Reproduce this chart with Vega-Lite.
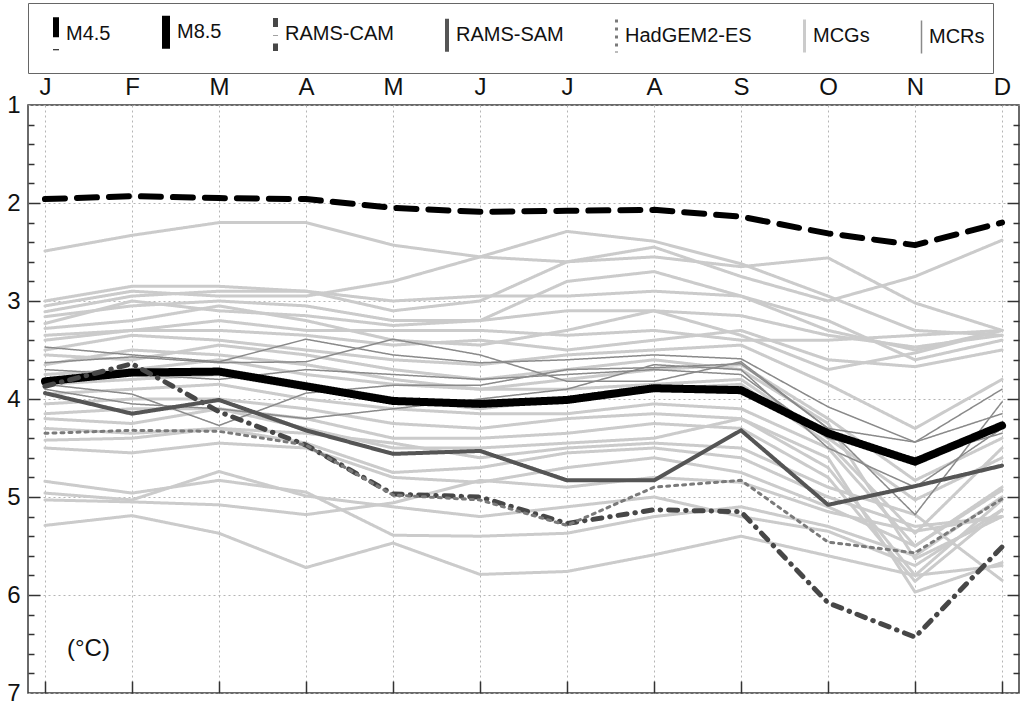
{
"$schema":"https://vega.github.io/schema/vega-lite/v6.json",
"width":991,"height":588,
"autosize":{"type":"none"},
"padding":{"left":28,"top":105,"right":4,"bottom":15},
"background":"white",
"config":{"view":{"stroke":"#3a3a3a","strokeWidth":1.5},"font":"Liberation Sans","axis":{"labelFont":"Liberation Sans","labelColor":"#111","title":null},
 "legend":{"orient":"none","legendX":0,"legendY":-102,"direction":"horizontal","symbolType":"stroke","symbolSize":1100,"symbolLimit":7,"labelFontSize":20,"labelFont":"Liberation Sans","labelColor":"#111","padding":8,"strokeColor":"#666","columnPadding":34,"labelOffset":-10,"titlePadding":0,"titleFontSize":0,"titleLineHeight":0}},
"datasets":{"d":[
{"id":"M45","s":"M4.5","m":1,"v":1.96},{"id":"M45","s":"M4.5","m":2,"v":1.93},{"id":"M45","s":"M4.5","m":3,"v":1.95},{"id":"M45","s":"M4.5","m":4,"v":1.96},{"id":"M45","s":"M4.5","m":5,"v":2.05},{"id":"M45","s":"M4.5","m":6,"v":2.09},{"id":"M45","s":"M4.5","m":7,"v":2.08},{"id":"M45","s":"M4.5","m":8,"v":2.07},{"id":"M45","s":"M4.5","m":9,"v":2.14},{"id":"M45","s":"M4.5","m":10,"v":2.31},{"id":"M45","s":"M4.5","m":11,"v":2.43},{"id":"M45","s":"M4.5","m":12,"v":2.2},
{"id":"M85","s":"M8.5","m":1,"v":3.82},{"id":"M85","s":"M8.5","m":2,"v":3.73},{"id":"M85","s":"M8.5","m":3,"v":3.72},{"id":"M85","s":"M8.5","m":4,"v":3.87},{"id":"M85","s":"M8.5","m":5,"v":4.02},{"id":"M85","s":"M8.5","m":6,"v":4.05},{"id":"M85","s":"M8.5","m":7,"v":4.01},{"id":"M85","s":"M8.5","m":8,"v":3.89},{"id":"M85","s":"M8.5","m":9,"v":3.91},{"id":"M85","s":"M8.5","m":10,"v":4.35},{"id":"M85","s":"M8.5","m":11,"v":4.64},{"id":"M85","s":"M8.5","m":12,"v":4.27},
{"id":"CAM","s":"RAMS-CAM","m":1,"v":3.87},{"id":"CAM","s":"RAMS-CAM","m":2,"v":3.64},{"id":"CAM","s":"RAMS-CAM","m":3,"v":4.13},{"id":"CAM","s":"RAMS-CAM","m":4,"v":4.47},{"id":"CAM","s":"RAMS-CAM","m":5,"v":4.97},{"id":"CAM","s":"RAMS-CAM","m":6,"v":5.0},{"id":"CAM","s":"RAMS-CAM","m":7,"v":5.27},{"id":"CAM","s":"RAMS-CAM","m":8,"v":5.13},{"id":"CAM","s":"RAMS-CAM","m":9,"v":5.15},{"id":"CAM","s":"RAMS-CAM","m":10,"v":6.08},{"id":"CAM","s":"RAMS-CAM","m":11,"v":6.43},{"id":"CAM","s":"RAMS-CAM","m":12,"v":5.51},
{"id":"SAM","s":"RAMS-SAM","m":1,"v":3.94},{"id":"SAM","s":"RAMS-SAM","m":2,"v":4.15},{"id":"SAM","s":"RAMS-SAM","m":3,"v":4.01},{"id":"SAM","s":"RAMS-SAM","m":4,"v":4.32},{"id":"SAM","s":"RAMS-SAM","m":5,"v":4.56},{"id":"SAM","s":"RAMS-SAM","m":6,"v":4.53},{"id":"SAM","s":"RAMS-SAM","m":7,"v":4.83},{"id":"SAM","s":"RAMS-SAM","m":8,"v":4.83},{"id":"SAM","s":"RAMS-SAM","m":9,"v":4.32},{"id":"SAM","s":"RAMS-SAM","m":10,"v":5.08},{"id":"SAM","s":"RAMS-SAM","m":11,"v":4.89},{"id":"SAM","s":"RAMS-SAM","m":12,"v":4.68},
{"id":"HAD","s":"HadGEM2-ES","m":1,"v":4.35},{"id":"HAD","s":"HadGEM2-ES","m":2,"v":4.32},{"id":"HAD","s":"HadGEM2-ES","m":3,"v":4.33},{"id":"HAD","s":"HadGEM2-ES","m":4,"v":4.47},{"id":"HAD","s":"HadGEM2-ES","m":5,"v":4.98},{"id":"HAD","s":"HadGEM2-ES","m":6,"v":5.03},{"id":"HAD","s":"HadGEM2-ES","m":7,"v":5.29},{"id":"HAD","s":"HadGEM2-ES","m":8,"v":4.9},{"id":"HAD","s":"HadGEM2-ES","m":9,"v":4.83},{"id":"HAD","s":"HadGEM2-ES","m":10,"v":5.46},{"id":"HAD","s":"HadGEM2-ES","m":11,"v":5.57},{"id":"HAD","s":"HadGEM2-ES","m":12,"v":5.02},
{"id":"R1","s":"MCRs","m":1,"v":3.47},{"id":"R1","s":"MCRs","m":2,"v":3.55},{"id":"R1","s":"MCRs","m":3,"v":3.62},{"id":"R1","s":"MCRs","m":4,"v":3.39},{"id":"R1","s":"MCRs","m":5,"v":3.55},{"id":"R1","s":"MCRs","m":6,"v":3.63},{"id":"R1","s":"MCRs","m":7,"v":3.6},{"id":"R1","s":"MCRs","m":8,"v":3.55},{"id":"R1","s":"MCRs","m":9,"v":3.59},{"id":"R1","s":"MCRs","m":10,"v":4.08},{"id":"R1","s":"MCRs","m":11,"v":4.44},{"id":"R1","s":"MCRs","m":12,"v":3.9},
{"id":"R2","s":"MCRs","m":1,"v":3.63},{"id":"R2","s":"MCRs","m":2,"v":3.57},{"id":"R2","s":"MCRs","m":3,"v":3.63},{"id":"R2","s":"MCRs","m":4,"v":3.62},{"id":"R2","s":"MCRs","m":5,"v":3.39},{"id":"R2","s":"MCRs","m":6,"v":3.55},{"id":"R2","s":"MCRs","m":7,"v":3.82},{"id":"R2","s":"MCRs","m":8,"v":3.82},{"id":"R2","s":"MCRs","m":9,"v":3.62},{"id":"R2","s":"MCRs","m":10,"v":4.3},{"id":"R2","s":"MCRs","m":11,"v":5.18},{"id":"R2","s":"MCRs","m":12,"v":4.03},
{"id":"R3","s":"MCRs","m":1,"v":3.85},{"id":"R3","s":"MCRs","m":2,"v":3.95},{"id":"R3","s":"MCRs","m":3,"v":4.27},{"id":"R3","s":"MCRs","m":4,"v":3.94},{"id":"R3","s":"MCRs","m":5,"v":3.86},{"id":"R3","s":"MCRs","m":6,"v":3.86},{"id":"R3","s":"MCRs","m":7,"v":3.7},{"id":"R3","s":"MCRs","m":8,"v":3.68},{"id":"R3","s":"MCRs","m":9,"v":3.64},{"id":"R3","s":"MCRs","m":10,"v":4.3},{"id":"R3","s":"MCRs","m":11,"v":4.44},{"id":"R3","s":"MCRs","m":12,"v":4.15},
{"id":"R4","s":"MCRs","m":1,"v":3.9},{"id":"R4","s":"MCRs","m":2,"v":4.05},{"id":"R4","s":"MCRs","m":3,"v":4.1},{"id":"R4","s":"MCRs","m":4,"v":4.2},{"id":"R4","s":"MCRs","m":5,"v":4.1},{"id":"R4","s":"MCRs","m":6,"v":4.0},{"id":"R4","s":"MCRs","m":7,"v":3.9},{"id":"R4","s":"MCRs","m":8,"v":3.65},{"id":"R4","s":"MCRs","m":9,"v":3.7},{"id":"R4","s":"MCRs","m":10,"v":4.5},{"id":"R4","s":"MCRs","m":11,"v":4.9},{"id":"R4","s":"MCRs","m":12,"v":4.3},
{"id":"R5","s":"MCRs","m":1,"v":3.7},{"id":"R5","s":"MCRs","m":2,"v":3.75},{"id":"R5","s":"MCRs","m":3,"v":3.8},{"id":"R5","s":"MCRs","m":4,"v":3.7},{"id":"R5","s":"MCRs","m":5,"v":3.75},{"id":"R5","s":"MCRs","m":6,"v":3.8},{"id":"R5","s":"MCRs","m":7,"v":3.75},{"id":"R5","s":"MCRs","m":8,"v":3.7},{"id":"R5","s":"MCRs","m":9,"v":3.75},{"id":"R5","s":"MCRs","m":10,"v":4.4},{"id":"R5","s":"MCRs","m":11,"v":4.6},{"id":"R5","s":"MCRs","m":12,"v":4.35},
{"id":"G1","s":"MCGs","m":1,"v":2.49},{"id":"G1","s":"MCGs","m":2,"v":2.33},{"id":"G1","s":"MCGs","m":3,"v":2.2},{"id":"G1","s":"MCGs","m":4,"v":2.2},{"id":"G1","s":"MCGs","m":5,"v":2.43},{"id":"G1","s":"MCGs","m":6,"v":2.55},{"id":"G1","s":"MCGs","m":7,"v":2.6},{"id":"G1","s":"MCGs","m":8,"v":2.45},{"id":"G1","s":"MCGs","m":9,"v":2.75},{"id":"G1","s":"MCGs","m":10,"v":3.0},{"id":"G1","s":"MCGs","m":11,"v":2.75},{"id":"G1","s":"MCGs","m":12,"v":2.38},
{"id":"G2","s":"MCGs","m":1,"v":3.05},{"id":"G2","s":"MCGs","m":2,"v":2.9},{"id":"G2","s":"MCGs","m":3,"v":2.95},{"id":"G2","s":"MCGs","m":4,"v":2.95},{"id":"G2","s":"MCGs","m":5,"v":2.8},{"id":"G2","s":"MCGs","m":6,"v":2.55},{"id":"G2","s":"MCGs","m":7,"v":2.29},{"id":"G2","s":"MCGs","m":8,"v":2.39},{"id":"G2","s":"MCGs","m":9,"v":2.62},{"id":"G2","s":"MCGs","m":10,"v":2.95},{"id":"G2","s":"MCGs","m":11,"v":3.3},{"id":"G2","s":"MCGs","m":12,"v":3.35},
{"id":"G3","s":"MCGs","m":1,"v":3.0},{"id":"G3","s":"MCGs","m":2,"v":2.85},{"id":"G3","s":"MCGs","m":3,"v":2.85},{"id":"G3","s":"MCGs","m":4,"v":2.9},{"id":"G3","s":"MCGs","m":5,"v":3.1},{"id":"G3","s":"MCGs","m":6,"v":3.0},{"id":"G3","s":"MCGs","m":7,"v":2.6},{"id":"G3","s":"MCGs","m":8,"v":2.55},{"id":"G3","s":"MCGs","m":9,"v":2.65},{"id":"G3","s":"MCGs","m":10,"v":2.56},{"id":"G3","s":"MCGs","m":11,"v":3.02},{"id":"G3","s":"MCGs","m":12,"v":3.3},
{"id":"G4","s":"MCGs","m":1,"v":3.11},{"id":"G4","s":"MCGs","m":2,"v":2.95},{"id":"G4","s":"MCGs","m":3,"v":2.9},{"id":"G4","s":"MCGs","m":4,"v":2.9},{"id":"G4","s":"MCGs","m":5,"v":3.0},{"id":"G4","s":"MCGs","m":6,"v":2.95},{"id":"G4","s":"MCGs","m":7,"v":2.95},{"id":"G4","s":"MCGs","m":8,"v":2.9},{"id":"G4","s":"MCGs","m":9,"v":2.95},{"id":"G4","s":"MCGs","m":10,"v":3.3},{"id":"G4","s":"MCGs","m":11,"v":3.5},{"id":"G4","s":"MCGs","m":12,"v":3.3},
{"id":"G5","s":"MCGs","m":1,"v":3.16},{"id":"G5","s":"MCGs","m":2,"v":3.05},{"id":"G5","s":"MCGs","m":3,"v":3.0},{"id":"G5","s":"MCGs","m":4,"v":3.05},{"id":"G5","s":"MCGs","m":5,"v":3.2},{"id":"G5","s":"MCGs","m":6,"v":3.2},{"id":"G5","s":"MCGs","m":7,"v":2.8},{"id":"G5","s":"MCGs","m":8,"v":2.7},{"id":"G5","s":"MCGs","m":9,"v":2.95},{"id":"G5","s":"MCGs","m":10,"v":3.2},{"id":"G5","s":"MCGs","m":11,"v":3.6},{"id":"G5","s":"MCGs","m":12,"v":3.4},
{"id":"G6","s":"MCGs","m":1,"v":3.23},{"id":"G6","s":"MCGs","m":2,"v":3.0},{"id":"G6","s":"MCGs","m":3,"v":3.1},{"id":"G6","s":"MCGs","m":4,"v":3.15},{"id":"G6","s":"MCGs","m":5,"v":3.25},{"id":"G6","s":"MCGs","m":6,"v":3.2},{"id":"G6","s":"MCGs","m":7,"v":3.1},{"id":"G6","s":"MCGs","m":8,"v":3.1},{"id":"G6","s":"MCGs","m":9,"v":3.15},{"id":"G6","s":"MCGs","m":10,"v":3.35},{"id":"G6","s":"MCGs","m":11,"v":3.47},{"id":"G6","s":"MCGs","m":12,"v":3.35},
{"id":"G7","s":"MCGs","m":1,"v":3.28},{"id":"G7","s":"MCGs","m":2,"v":3.2},{"id":"G7","s":"MCGs","m":3,"v":3.05},{"id":"G7","s":"MCGs","m":4,"v":3.2},{"id":"G7","s":"MCGs","m":5,"v":3.4},{"id":"G7","s":"MCGs","m":6,"v":3.45},{"id":"G7","s":"MCGs","m":7,"v":3.3},{"id":"G7","s":"MCGs","m":8,"v":3.1},{"id":"G7","s":"MCGs","m":9,"v":3.35},{"id":"G7","s":"MCGs","m":10,"v":3.7},{"id":"G7","s":"MCGs","m":11,"v":3.53},{"id":"G7","s":"MCGs","m":12,"v":3.3},
{"id":"G8","s":"MCGs","m":1,"v":3.35},{"id":"G8","s":"MCGs","m":2,"v":3.3},{"id":"G8","s":"MCGs","m":3,"v":3.2},{"id":"G8","s":"MCGs","m":4,"v":3.3},{"id":"G8","s":"MCGs","m":5,"v":3.3},{"id":"G8","s":"MCGs","m":6,"v":3.3},{"id":"G8","s":"MCGs","m":7,"v":3.35},{"id":"G8","s":"MCGs","m":8,"v":3.3},{"id":"G8","s":"MCGs","m":9,"v":3.4},{"id":"G8","s":"MCGs","m":10,"v":3.4},{"id":"G8","s":"MCGs","m":11,"v":3.35},{"id":"G8","s":"MCGs","m":12,"v":3.3},
{"id":"G9","s":"MCGs","m":1,"v":3.4},{"id":"G9","s":"MCGs","m":2,"v":3.3},{"id":"G9","s":"MCGs","m":3,"v":3.3},{"id":"G9","s":"MCGs","m":4,"v":3.35},{"id":"G9","s":"MCGs","m":5,"v":3.45},{"id":"G9","s":"MCGs","m":6,"v":3.4},{"id":"G9","s":"MCGs","m":7,"v":3.5},{"id":"G9","s":"MCGs","m":8,"v":3.4},{"id":"G9","s":"MCGs","m":9,"v":3.3},{"id":"G9","s":"MCGs","m":10,"v":3.6},{"id":"G9","s":"MCGs","m":11,"v":3.67},{"id":"G9","s":"MCGs","m":12,"v":3.5},
{"id":"G10","s":"MCGs","m":1,"v":3.5},{"id":"G10","s":"MCGs","m":2,"v":3.35},{"id":"G10","s":"MCGs","m":3,"v":3.4},{"id":"G10","s":"MCGs","m":4,"v":3.5},{"id":"G10","s":"MCGs","m":5,"v":3.6},{"id":"G10","s":"MCGs","m":6,"v":3.65},{"id":"G10","s":"MCGs","m":7,"v":3.55},{"id":"G10","s":"MCGs","m":8,"v":3.5},{"id":"G10","s":"MCGs","m":9,"v":3.45},{"id":"G10","s":"MCGs","m":10,"v":3.85},{"id":"G10","s":"MCGs","m":11,"v":4.3},{"id":"G10","s":"MCGs","m":12,"v":3.8},
{"id":"G11","s":"MCGs","m":1,"v":3.55},{"id":"G11","s":"MCGs","m":2,"v":3.6},{"id":"G11","s":"MCGs","m":3,"v":3.45},{"id":"G11","s":"MCGs","m":4,"v":3.55},{"id":"G11","s":"MCGs","m":5,"v":3.7},{"id":"G11","s":"MCGs","m":6,"v":3.8},{"id":"G11","s":"MCGs","m":7,"v":3.7},{"id":"G11","s":"MCGs","m":8,"v":3.6},{"id":"G11","s":"MCGs","m":9,"v":3.7},{"id":"G11","s":"MCGs","m":10,"v":4.25},{"id":"G11","s":"MCGs","m":11,"v":5.63},{"id":"G11","s":"MCGs","m":12,"v":5.2},
{"id":"G12","s":"MCGs","m":1,"v":3.65},{"id":"G12","s":"MCGs","m":2,"v":3.5},{"id":"G12","s":"MCGs","m":3,"v":3.55},{"id":"G12","s":"MCGs","m":4,"v":3.65},{"id":"G12","s":"MCGs","m":5,"v":3.8},{"id":"G12","s":"MCGs","m":6,"v":3.9},{"id":"G12","s":"MCGs","m":7,"v":3.8},{"id":"G12","s":"MCGs","m":8,"v":3.7},{"id":"G12","s":"MCGs","m":9,"v":3.65},{"id":"G12","s":"MCGs","m":10,"v":4.2},{"id":"G12","s":"MCGs","m":11,"v":4.83},{"id":"G12","s":"MCGs","m":12,"v":4.4},
{"id":"G13","s":"MCGs","m":1,"v":3.75},{"id":"G13","s":"MCGs","m":2,"v":3.7},{"id":"G13","s":"MCGs","m":3,"v":3.6},{"id":"G13","s":"MCGs","m":4,"v":3.75},{"id":"G13","s":"MCGs","m":5,"v":3.85},{"id":"G13","s":"MCGs","m":6,"v":3.9},{"id":"G13","s":"MCGs","m":7,"v":3.9},{"id":"G13","s":"MCGs","m":8,"v":3.85},{"id":"G13","s":"MCGs","m":9,"v":3.8},{"id":"G13","s":"MCGs","m":10,"v":4.4},{"id":"G13","s":"MCGs","m":11,"v":5.03},{"id":"G13","s":"MCGs","m":12,"v":4.6},
{"id":"G14","s":"MCGs","m":1,"v":3.85},{"id":"G14","s":"MCGs","m":2,"v":3.8},{"id":"G14","s":"MCGs","m":3,"v":3.75},{"id":"G14","s":"MCGs","m":4,"v":3.9},{"id":"G14","s":"MCGs","m":5,"v":4.0},{"id":"G14","s":"MCGs","m":6,"v":4.1},{"id":"G14","s":"MCGs","m":7,"v":4.0},{"id":"G14","s":"MCGs","m":8,"v":3.9},{"id":"G14","s":"MCGs","m":9,"v":3.85},{"id":"G14","s":"MCGs","m":10,"v":4.45},{"id":"G14","s":"MCGs","m":11,"v":5.37},{"id":"G14","s":"MCGs","m":12,"v":4.5},
{"id":"G15","s":"MCGs","m":1,"v":3.95},{"id":"G15","s":"MCGs","m":2,"v":3.9},{"id":"G15","s":"MCGs","m":3,"v":3.85},{"id":"G15","s":"MCGs","m":4,"v":4.0},{"id":"G15","s":"MCGs","m":5,"v":4.1},{"id":"G15","s":"MCGs","m":6,"v":4.15},{"id":"G15","s":"MCGs","m":7,"v":4.15},{"id":"G15","s":"MCGs","m":8,"v":4.05},{"id":"G15","s":"MCGs","m":9,"v":4.1},{"id":"G15","s":"MCGs","m":10,"v":4.5},{"id":"G15","s":"MCGs","m":11,"v":5.5},{"id":"G15","s":"MCGs","m":12,"v":4.93},
{"id":"G16","s":"MCGs","m":1,"v":4.05},{"id":"G16","s":"MCGs","m":2,"v":4.0},{"id":"G16","s":"MCGs","m":3,"v":4.0},{"id":"G16","s":"MCGs","m":4,"v":4.1},{"id":"G16","s":"MCGs","m":5,"v":4.25},{"id":"G16","s":"MCGs","m":6,"v":4.3},{"id":"G16","s":"MCGs","m":7,"v":4.2},{"id":"G16","s":"MCGs","m":8,"v":4.15},{"id":"G16","s":"MCGs","m":9,"v":4.2},{"id":"G16","s":"MCGs","m":10,"v":4.7},{"id":"G16","s":"MCGs","m":11,"v":5.8},{"id":"G16","s":"MCGs","m":12,"v":5.03},
{"id":"G17","s":"MCGs","m":1,"v":4.15},{"id":"G17","s":"MCGs","m":2,"v":4.1},{"id":"G17","s":"MCGs","m":3,"v":4.1},{"id":"G17","s":"MCGs","m":4,"v":4.2},{"id":"G17","s":"MCGs","m":5,"v":4.4},{"id":"G17","s":"MCGs","m":6,"v":4.4},{"id":"G17","s":"MCGs","m":7,"v":4.35},{"id":"G17","s":"MCGs","m":8,"v":4.25},{"id":"G17","s":"MCGs","m":9,"v":4.3},{"id":"G17","s":"MCGs","m":10,"v":4.8},{"id":"G17","s":"MCGs","m":11,"v":5.86},{"id":"G17","s":"MCGs","m":12,"v":5.13},
{"id":"G18","s":"MCGs","m":1,"v":4.2},{"id":"G18","s":"MCGs","m":2,"v":4.25},{"id":"G18","s":"MCGs","m":3,"v":4.1},{"id":"G18","s":"MCGs","m":4,"v":4.3},{"id":"G18","s":"MCGs","m":5,"v":4.5},{"id":"G18","s":"MCGs","m":6,"v":4.5},{"id":"G18","s":"MCGs","m":7,"v":4.45},{"id":"G18","s":"MCGs","m":8,"v":4.4},{"id":"G18","s":"MCGs","m":9,"v":4.2},{"id":"G18","s":"MCGs","m":10,"v":4.6},{"id":"G18","s":"MCGs","m":11,"v":5.97},{"id":"G18","s":"MCGs","m":12,"v":5.67},
{"id":"G19","s":"MCGs","m":1,"v":4.3},{"id":"G19","s":"MCGs","m":2,"v":4.35},{"id":"G19","s":"MCGs","m":3,"v":4.3},{"id":"G19","s":"MCGs","m":4,"v":4.35},{"id":"G19","s":"MCGs","m":5,"v":4.45},{"id":"G19","s":"MCGs","m":6,"v":4.6},{"id":"G19","s":"MCGs","m":7,"v":4.5},{"id":"G19","s":"MCGs","m":8,"v":4.45},{"id":"G19","s":"MCGs","m":9,"v":4.5},{"id":"G19","s":"MCGs","m":10,"v":4.9},{"id":"G19","s":"MCGs","m":11,"v":5.18},{"id":"G19","s":"MCGs","m":12,"v":5.85},
{"id":"G20","s":"MCGs","m":1,"v":4.42},{"id":"G20","s":"MCGs","m":2,"v":4.4},{"id":"G20","s":"MCGs","m":3,"v":4.3},{"id":"G20","s":"MCGs","m":4,"v":4.45},{"id":"G20","s":"MCGs","m":5,"v":4.75},{"id":"G20","s":"MCGs","m":6,"v":4.7},{"id":"G20","s":"MCGs","m":7,"v":4.55},{"id":"G20","s":"MCGs","m":8,"v":4.5},{"id":"G20","s":"MCGs","m":9,"v":4.6},{"id":"G20","s":"MCGs","m":10,"v":5.0},{"id":"G20","s":"MCGs","m":11,"v":5.3},{"id":"G20","s":"MCGs","m":12,"v":5.2},
{"id":"G21","s":"MCGs","m":1,"v":4.5},{"id":"G21","s":"MCGs","m":2,"v":4.55},{"id":"G21","s":"MCGs","m":3,"v":4.45},{"id":"G21","s":"MCGs","m":4,"v":4.5},{"id":"G21","s":"MCGs","m":5,"v":4.8},{"id":"G21","s":"MCGs","m":6,"v":4.85},{"id":"G21","s":"MCGs","m":7,"v":4.7},{"id":"G21","s":"MCGs","m":8,"v":4.6},{"id":"G21","s":"MCGs","m":9,"v":4.75},{"id":"G21","s":"MCGs","m":10,"v":5.1},{"id":"G21","s":"MCGs","m":11,"v":5.5},{"id":"G21","s":"MCGs","m":12,"v":4.9},
{"id":"G22","s":"MCGs","m":1,"v":4.84},{"id":"G22","s":"MCGs","m":2,"v":4.96},{"id":"G22","s":"MCGs","m":3,"v":4.83},{"id":"G22","s":"MCGs","m":4,"v":4.95},{"id":"G22","s":"MCGs","m":5,"v":5.39},{"id":"G22","s":"MCGs","m":6,"v":5.4},{"id":"G22","s":"MCGs","m":7,"v":5.37},{"id":"G22","s":"MCGs","m":8,"v":5.2},{"id":"G22","s":"MCGs","m":9,"v":5.1},{"id":"G22","s":"MCGs","m":10,"v":5.3},{"id":"G22","s":"MCGs","m":11,"v":5.6},{"id":"G22","s":"MCGs","m":12,"v":5.0},
{"id":"G23","s":"MCGs","m":1,"v":4.96},{"id":"G23","s":"MCGs","m":2,"v":5.03},{"id":"G23","s":"MCGs","m":3,"v":4.74},{"id":"G23","s":"MCGs","m":4,"v":4.99},{"id":"G23","s":"MCGs","m":5,"v":5.1},{"id":"G23","s":"MCGs","m":6,"v":5.2},{"id":"G23","s":"MCGs","m":7,"v":5.1},{"id":"G23","s":"MCGs","m":8,"v":5.0},{"id":"G23","s":"MCGs","m":9,"v":5.2},{"id":"G23","s":"MCGs","m":10,"v":5.35},{"id":"G23","s":"MCGs","m":11,"v":5.7},{"id":"G23","s":"MCGs","m":12,"v":5.13},
{"id":"G24","s":"MCGs","m":1,"v":5.03},{"id":"G24","s":"MCGs","m":2,"v":5.05},{"id":"G24","s":"MCGs","m":3,"v":5.08},{"id":"G24","s":"MCGs","m":4,"v":5.18},{"id":"G24","s":"MCGs","m":5,"v":5.06},{"id":"G24","s":"MCGs","m":6,"v":4.83},{"id":"G24","s":"MCGs","m":7,"v":4.9},{"id":"G24","s":"MCGs","m":8,"v":4.8},{"id":"G24","s":"MCGs","m":9,"v":4.85},{"id":"G24","s":"MCGs","m":10,"v":5.15},{"id":"G24","s":"MCGs","m":11,"v":5.35},{"id":"G24","s":"MCGs","m":12,"v":5.2},
{"id":"G25","s":"MCGs","m":1,"v":5.29},{"id":"G25","s":"MCGs","m":2,"v":5.19},{"id":"G25","s":"MCGs","m":3,"v":5.37},{"id":"G25","s":"MCGs","m":4,"v":5.72},{"id":"G25","s":"MCGs","m":5,"v":5.47},{"id":"G25","s":"MCGs","m":6,"v":5.79},{"id":"G25","s":"MCGs","m":7,"v":5.76},{"id":"G25","s":"MCGs","m":8,"v":5.59},{"id":"G25","s":"MCGs","m":9,"v":5.4},{"id":"G25","s":"MCGs","m":10,"v":5.6},{"id":"G25","s":"MCGs","m":11,"v":5.8},{"id":"G25","s":"MCGs","m":12,"v":5.7}
]},
"data":{"name":"d"},
"layer":[
{"transform":[{"filter":"datum.s == 'MCGs'"}],
 "mark":{"type":"line","strokeCap":"round","strokeJoin":"round"},
 "encoding":{
  "x":{"field":"m","type":"quantitative","scale":{"domain":[0.805,12.195],"nice":false,"zero":false},
       "axis":{"orient":"top","values":[1,2,3,4,5,6,7,8,9,10,11,12],"labelExpr":"['J','F','M','A','M','J','J','A','S','O','N','D'][datum.value-1]","ticks":false,"domain":false,"grid":true,"gridDash":[2,3],"gridColor":"#b5b5b5","labelFontSize":24,"labelPadding":6,"labelFlush":false}},
  "y":{"field":"v","type":"quantitative","scale":{"domain":[1,7],"reverse":true,"nice":false,"zero":false},
       "axis":{"orient":"left","values":[1,2,3,4,5,6,7],"ticks":false,"domain":false,"grid":true,"gridDash":[2,3],"gridColor":"#b5b5b5","labelFontSize":24,"labelPadding":8,"labelFlush":false}},
  "color":{"field":"s","type":"nominal","title":null,"scale":{"domain":["M4.5","M8.5","RAMS-CAM","RAMS-SAM","HadGEM2-ES","MCGs","MCRs"],"range":["#000000","#000000","#474747","#555555","#7a7a7a","#cbcbcb","#8a8a8a"]},
       "legend":{"encode":{"symbols":{"update":{"angle":{"value":90}}}}}},
  "strokeDash":{"field":"s","type":"nominal","title":null,"scale":{"domain":["M4.5","M8.5","RAMS-CAM","RAMS-SAM","HadGEM2-ES","MCGs","MCRs"],"range":[[20,12],[1,0],[9,8,0.5,8],[1,0],[3,5],[1,0],[1,0]]}},
  "strokeWidth":{"field":"s","type":"nominal","title":null,"scale":{"type":"ordinal","domain":["M4.5","M8.5","RAMS-CAM","RAMS-SAM","HadGEM2-ES","MCGs","MCRs"],"range":[6,8,5,4,3,3,1.5]}},
  "detail":{"field":"id"}}},
{"transform":[{"filter":"datum.s == 'MCRs'"}],
 "mark":{"type":"line","strokeCap":"round","strokeJoin":"round"},
 "encoding":{
  "x":{"field":"m","type":"quantitative","axis":{"orient":"bottom","values":[1,2,3,4,5,6,7,8,9,10,11,12],"labels":false,"domain":false,"grid":false,"ticks":true,"tickSize":-12,"tickColor":"#333","tickWidth":1.5}},
  "y":{"field":"v","type":"quantitative","axis":{"orient":"left","values":[1.2,1.4,1.6,1.8,2,2.2,2.4,2.6,2.8,3,3.2,3.4,3.6,3.8,4,4.2,4.4,4.6,4.8,5,5.2,5.4,5.6,5.8,6,6.2,6.4,6.6,6.8],"labels":false,"domain":false,"grid":false,"ticks":true,"tickColor":"#333","tickWidth":1.5,"tickSize":{"condition":{"test":"abs(datum.value - round(datum.value)) < 0.01","value":-12},"value":-6}}},
  "color":{"field":"s","type":"nominal","title":null,"scale":{"domain":["M4.5","M8.5","RAMS-CAM","RAMS-SAM","HadGEM2-ES","MCGs","MCRs"],"range":["#000000","#000000","#474747","#555555","#7a7a7a","#cbcbcb","#8a8a8a"]}},
  "strokeDash":{"field":"s","type":"nominal","title":null,"scale":{"domain":["M4.5","M8.5","RAMS-CAM","RAMS-SAM","HadGEM2-ES","MCGs","MCRs"],"range":[[20,12],[1,0],[9,8,0.5,8],[1,0],[3,5],[1,0],[1,0]]}},
  "strokeWidth":{"field":"s","type":"nominal","title":null,"scale":{"type":"ordinal","domain":["M4.5","M8.5","RAMS-CAM","RAMS-SAM","HadGEM2-ES","MCGs","MCRs"],"range":[6,8,5,4,3,3,1.5]}},
  "detail":{"field":"id"}}},
{"transform":[{"filter":"datum.s != 'MCRs' && datum.s != 'MCGs'"}],
 "mark":{"type":"line","strokeCap":"round","strokeJoin":"round"},
 "encoding":{
  "x":{"field":"m","type":"quantitative","axis":null},
  "y":{"field":"v","type":"quantitative","axis":{"orient":"right","values":[1.2,1.4,1.6,1.8,2,2.2,2.4,2.6,2.8,3,3.2,3.4,3.6,3.8,4,4.2,4.4,4.6,4.8,5,5.2,5.4,5.6,5.8,6,6.2,6.4,6.6,6.8],"labels":false,"domain":false,"grid":false,"ticks":true,"tickColor":"#333","tickWidth":1.5,"tickSize":{"condition":{"test":"abs(datum.value - round(datum.value)) < 0.01","value":-12},"value":-6}}},
  "color":{"field":"s","type":"nominal","title":null,"scale":{"domain":["M4.5","M8.5","RAMS-CAM","RAMS-SAM","HadGEM2-ES","MCGs","MCRs"],"range":["#000000","#000000","#474747","#555555","#7a7a7a","#cbcbcb","#8a8a8a"]}},
  "strokeDash":{"field":"s","type":"nominal","title":null,"scale":{"domain":["M4.5","M8.5","RAMS-CAM","RAMS-SAM","HadGEM2-ES","MCGs","MCRs"],"range":[[20,12],[1,0],[9,8,0.5,8],[1,0],[3,5],[1,0],[1,0]]}},
  "strokeWidth":{"field":"s","type":"nominal","title":null,"scale":{"type":"ordinal","domain":["M4.5","M8.5","RAMS-CAM","RAMS-SAM","HadGEM2-ES","MCGs","MCRs"],"range":[6,8,5,4,3,3,1.5]}},
  "detail":{"field":"id"}}},
{"data":{"values":[{"unit":"(°C)"}]},
 "mark":{"type":"text","fontSize":24,"font":"Liberation Sans","align":"center","baseline":"middle","color":"#111"},
 "encoding":{
  "x":{"datum":1.5,"type":"quantitative","axis":null},
  "y":{"datum":6.55,"type":"quantitative","axis":null},
  "text":{"field":"unit"}}}
],
"resolve":{"axis":{"x":"independent","y":"independent"}}
}
